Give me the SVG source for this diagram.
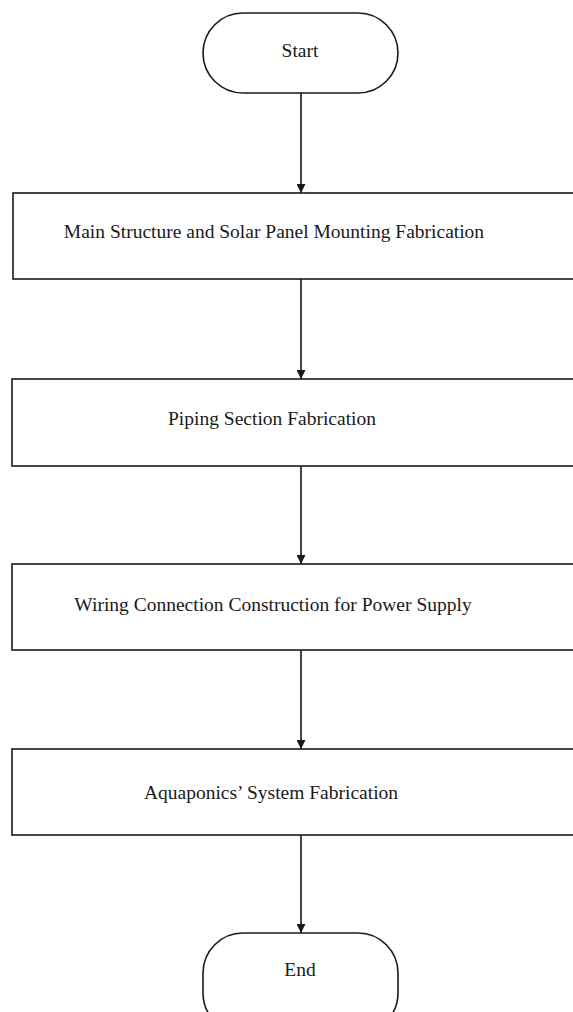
<svg xmlns="http://www.w3.org/2000/svg" width="573" height="1012" viewBox="0 0 573 1012">
<style>
.shape{fill:#fff;stroke:#1a1a1a;stroke-width:1.6}
.lbl{font-family:"Liberation Serif","Times New Roman",serif;font-size:19.5px;fill:#1a1a1a;text-anchor:middle}
.conn{stroke:#1a1a1a;stroke-width:1.6;fill:none;marker-end:url(#arr)}
</style>
<defs>
<marker id="arr" viewBox="0 0 10 10" refX="10" refY="5" markerWidth="9" markerHeight="9" markerUnits="userSpaceOnUse" orient="auto">
<path d="M0,0 L10,5 L0,10 z" fill="#1a1a1a"/>
</marker>
</defs>
<rect width="573" height="1012" fill="#fff"/>
<g id="start">
<rect class="shape" x="203" y="13" width="195" height="80" rx="40" ry="40"/>
<text class="lbl" x="300" y="57">Start</text>
</g>
<g id="n1">
<rect class="shape" x="13" y="193" width="600" height="86"/>
<text class="lbl" x="274" y="238">Main Structure and Solar Panel Mounting Fabrication</text>
</g>
<g id="n2">
<rect class="shape" x="12" y="379" width="600" height="87"/>
<text class="lbl" x="272" y="425">Piping Section Fabrication</text>
</g>
<g id="n3">
<rect class="shape" x="12" y="564" width="600" height="86"/>
<text class="lbl" x="273" y="611">Wiring Connection Construction for Power Supply</text>
</g>
<g id="n4">
<rect class="shape" x="12" y="749" width="600" height="86"/>
<text class="lbl" x="271" y="799">Aquaponics’ System Fabrication</text>
</g>
<g id="end">
<rect class="shape" x="203" y="933" width="195" height="100" rx="40" ry="40"/>
<text class="lbl" x="300" y="976">End</text>
</g>
<g id="connectors">
<line class="conn" x1="301" y1="93" x2="301" y2="193"/>
<line class="conn" x1="301" y1="279" x2="301" y2="379"/>
<line class="conn" x1="301" y1="466" x2="301" y2="564"/>
<line class="conn" x1="301" y1="650" x2="301" y2="749"/>
<line class="conn" x1="301" y1="835" x2="301" y2="933"/>
</g>
</svg>
